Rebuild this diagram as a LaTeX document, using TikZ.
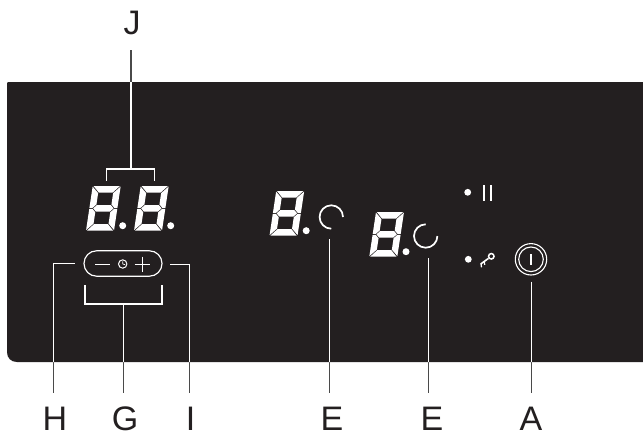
\documentclass[tikz,border=0pt]{standalone}
\usepackage{fontspec}
\setmainfont{Liberation Sans}
\definecolor{panel}{HTML}{231F20}
\definecolor{outwire}{HTML}{4A4A4A}
\definecolor{labelink}{HTML}{231F20}
\tikzset{
  lab/.style={inner sep=0pt,text height=36.5pt,text depth=0pt,anchor=south,text=labelink,font=\fontsize{34}{34}\selectfont},
  sym/.style={draw=white,line width=1pt,fill=none},
  led/.style={circle,fill=white,inner sep=0pt},
  seg/.style={fill=white,draw=none}
}
\newcommand{\digit}[3]{%
  \begin{scope}[shift={(#1,#2)},xslant=0.15]
    \fill[seg] (0.8,-44.7)--(27.2,-44.7)--(21,-38.2)--(7,-38.2)--cycle;
    \fill[seg] (0,-44.1)--(6.5,-37.6)--(6.5,-26.3)--(3.2,-22.9)--(0,-22.9)--cycle;
    \fill[seg] (28,-44.1)--(21.5,-37.6)--(21.5,-26.3)--(24.8,-22.9)--(28,-22.9)--cycle;
    \fill[seg] (3.8,-22.35)--(7.1,-25.7)--(20.9,-25.7)--(24.2,-22.35)--(20.9,-19)--(7.1,-19)--cycle;
    \fill[seg] (0,-21.8)--(3.2,-21.8)--(6.5,-18.4)--(6.5,-7.1)--(0,-0.6)--cycle;
    \fill[seg] (28,-21.8)--(24.8,-21.8)--(21.5,-18.4)--(21.5,-7.1)--(28,-0.6)--cycle;
    \fill[seg] (0.8,0)--(27.2,0)--(21,-6.5)--(7,-6.5)--cycle;
  \end{scope}
  \node[led,minimum size=7pt] (#3) at (#1+36.7,#2-5) {};
}
\newcommand{\wires}[1]{%
  \draw[#1] (jm) -- (jm |- lj.south);
  \draw[#1] (ja) |- (jm) -| (jb);
  \draw[#1] (hs) -- (hc) -- (hc |- lh.north);
  \draw[#1] (is) -- (ic) -- (ic |- li.north);
  \draw[#1] (ga) |- (gm) -| (gb);
  \draw[#1] (gm) -- (gm |- lg.north);
  \draw[#1] (e1s) -- (e1s |- le1.north);
  \draw[#1] (e2s) -- (e2s |- le2.north);
  \draw[#1] (as) -- (as |- la.north);
}
\begin{document}
\begin{tikzpicture}[x=1pt,y=-1pt]
\useasboundingbox (0,0) rectangle (643,431);
\fill[white] (0,0) rectangle (643,431);
\node[lab,text height=25pt,text depth=15.7pt] (lj) at (132,50) {J};
\node[lab] (lh) at (55,430.3) {H};
\node[lab] (lg) at (125,430.3) {G};
\node[lab] (li) at (190.7,430.3) {I};
\node[lab] (le1) at (332,430.3) {E};
\node[lab] (le2) at (432,430.3) {E};
\node[lab] (la) at (531,430.3) {A};
\coordinate (jm) at (131,169);
\coordinate (ja) at (106.7,180.7);
\coordinate (jb) at (154.7,180.7);
\coordinate (hs) at (75,263.7);
\coordinate (hc) at (53.7,263.7);
\coordinate (is) at (170,264.2);
\coordinate (ic) at (189.7,264.2);
\coordinate (gm) at (123.7,304);
\coordinate (ga) at (85,285);
\coordinate (gb) at (162,285);
\coordinate (e1s) at (329.7,239);
\coordinate (e2s) at (428.5,258);
\coordinate (as) at (531.7,281.7);
\wires{outwire,line width=1.2pt}
\fill[panel] (7,83) -- (8,82) -- (643,82) -- (643,362) -- (17,362) .. controls (11,362) and (7,358) .. (7,352) -- cycle;
\begin{scope}
  \clip (7,83) -- (8,82) -- (643,82) -- (643,362) -- (17,362) .. controls (11,362) and (7,358) .. (7,352) -- cycle;
  \wires{white,line width=1.2pt}
\end{scope}
\digit{86}{230.7}{d1}
\digit{134}{230.7}{d2}
\digit{269.5}{235.7}{d3}
\digit{369.3}{256.7}{d4}
% timer pill
\node[sym,line width=1.15pt,rounded corners=12.6pt,minimum width=78pt,minimum height=25.4pt,inner sep=0pt] (pill) at (123,263.5) {};
\node[sym,circle,minimum size=8.4pt,inner sep=0pt] (clk) at (122.7,264) {};
\draw[white,line width=0.7pt] (clk.center) -- ++(0,-2.6) (clk.center) -- ++(2.4,0.6);
\draw[sym] (95,264) -- (110,264);
\draw[sym] (134.5,264) -- (149.5,264) (142,256.5) -- (142,271.5);
% heat rings
\draw[white,line width=1.7pt] (331.3,228.7) arc[start angle=90,end angle=360,radius=11.7];
\draw[white,line width=1.7pt] (437.4,236) arc[start angle=0,end angle=270,radius=11.7];
% status
\node[led,minimum size=6.8pt] (p1) at (467.7,192.3) {};
\draw[sym,line width=1.15pt] (484,185) -- (484,200.7) (491,185) -- (491,200.7);
\node[led,minimum size=6.8pt] (p2) at (468.3,259.3) {};
\node[circle,draw=white,line width=1.5pt,minimum size=5.5pt,inner sep=0pt] (ring) at (491.3,256.3) {};
\draw[white,line width=1.6pt] (ring) -- (480.7,264);
\draw[white,line width=1.3pt] (481,263.5) -- (481.5,267.3) (484.2,261.5) -- (484.7,264.8);
% power
\node[circle,draw=white,line width=1.1pt,minimum size=31.4pt,inner sep=0pt] (po) at (531,259.3) {};
\node[circle,draw=white,line width=1.1pt,minimum size=24.6pt,inner sep=0pt] (pi) at (531,259.3) {};
\draw[white,line width=1.1pt] (531,254) -- (531,265);
\end{tikzpicture}
\end{document}
